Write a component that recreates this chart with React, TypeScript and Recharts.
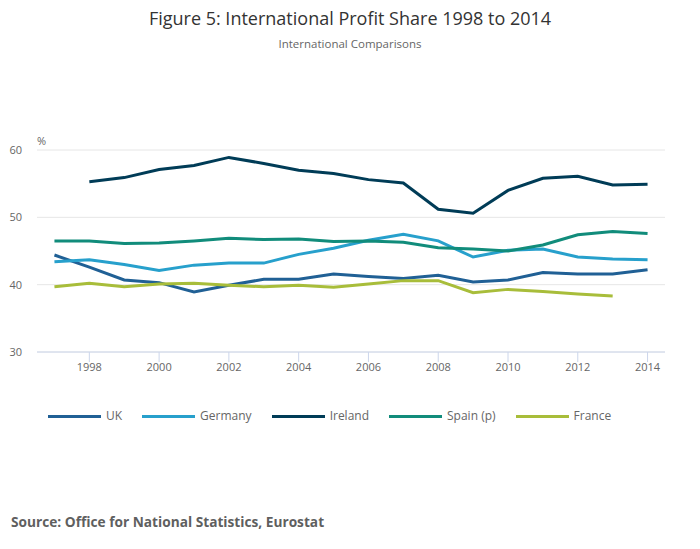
import React from 'react';
import { LineChart, Line, XAxis, YAxis, CartesianGrid } from 'recharts';

// ─── Data ───────────────────────────────────────────────────────────────────
const years = [1997, 1998, 1999, 2000, 2001, 2002, 2003, 2004, 2005, 2006, 2007, 2008, 2009, 2010, 2011, 2012, 2013, 2014];
const uk = [44.4, 42.6, 40.7, 40.3, 38.9, 39.9, 40.8, 40.8, 41.6, 41.2, 40.9, 41.4, 40.4, 40.7, 41.8, 41.6, 41.6, 42.2];
const germany = [43.4, 43.7, 43.0, 42.1, 42.9, 43.2, 43.2, 44.5, 45.4, 46.6, 47.5, 46.5, 44.1, 45.1, 45.3, 44.1, 43.8, 43.7];
const ireland = [null, 55.3, 55.9, 57.1, 57.7, 58.9, 58.0, 57.0, 56.5, 55.6, 55.1, 51.2, 50.6, 54.0, 55.8, 56.1, 54.8, 54.9];
const spain = [46.5, 46.5, 46.1, 46.2, 46.5, 46.9, 46.7, 46.8, 46.4, 46.5, 46.3, 45.5, 45.3, 45.0, 45.9, 47.4, 47.9, 47.6];
const france = [39.7, 40.2, 39.7, 40.1, 40.2, 39.9, 39.7, 39.9, 39.6, 40.1, 40.6, 40.6, 38.8, 39.3, 39.0, 38.6, 38.3, null];

const xTicks = [1998, 2000, 2002, 2004, 2006, 2008, 2010, 2012, 2014];
const yTicks = [30, 40, 50, 60];

const series = [
  { key: 'uk', name: 'UK', color: '#206095' },
  { key: 'germany', name: 'Germany', color: '#27a0cc' },
  { key: 'ireland', name: 'Ireland', color: '#003c57' },
  { key: 'spain', name: 'Spain (p)', color: '#118c7b' },
  { key: 'france', name: 'France', color: '#a8bd3a' },
];

const data = years.map((year, i) => ({
  year,
  uk: uk[i],
  germany: germany[i],
  ireland: ireland[i],
  spain: spain[i],
  france: france[i],
}));

const FONT = '"Open Sans", sans-serif';

// legend sits under the plot, drawn as plain html so it doesn't eat plot height
function ChartLegend() {
  return (
    <div style={{ position: 'absolute', top: 408, left: 48, display: 'flex', alignItems: 'center', fontSize: 12, color: '#666' }}>
      {series.map((s) => (
        <div key={s.key} style={{ display: 'flex', alignItems: 'center', marginRight: 20 }}>
          <span style={{ display: 'inline-block', width: 53, height: 3, background: s.color, marginRight: 5 }} />
          <span style={{ lineHeight: '16px' }}>{s.name}</span>
        </div>
      ))}
    </div>
  );
}

export default function App() {
  return (
    <div style={{ position: 'absolute', left: 0, top: 0, width: 700, height: 549, background: '#fff', fontFamily: FONT }}>
      <div style={{ position: 'absolute', top: 7, left: 0, width: 700, textAlign: 'center', fontSize: 18, lineHeight: '22px', color: '#333' }}>
        Figure 5: International Profit Share 1998 to 2014
      </div>
      <div style={{ position: 'absolute', top: 37, left: 0, width: 700, textAlign: 'center', fontSize: 11.5, lineHeight: '14px', color: '#666' }}>
        International Comparisons
      </div>
      <div style={{ position: 'absolute', top: 134, left: 37, fontSize: 11, lineHeight: '14px', color: '#666' }}>%</div>

      {/* plot area: x 37..665, y 150..352 */}
      <LineChart width={700} height={549} data={data} margin={{ top: 150, right: 35, bottom: 167, left: 0 }}>
        <CartesianGrid vertical={false} stroke="#e6e6e6" />
        <XAxis
          dataKey="year"
          type="number"
          domain={[1996.5, 2014.5]}
          ticks={xTicks}
          stroke="#ccd6eb"
          tickSize={10}
          tickMargin={1}
          tick={{ fill: '#666', fontSize: 11, fontFamily: FONT }}
          height={30}
        />
        <YAxis
          domain={[30, 60]}
          ticks={yTicks}
          width={37}
          axisLine={false}
          tickLine={false}
          tickSize={0}
          tickMargin={15}
          tick={{ fill: '#666', fontSize: 11, fontFamily: FONT }}
        />
        {series.map((s) => (
          <Line
            key={s.key}
            dataKey={s.key}
            name={s.name}
            stroke={s.color}
            strokeWidth={3}
            dot={false}
            type="linear"
            isAnimationActive={false}
          />
        ))}
      </LineChart>

      <ChartLegend />

      <div style={{ position: 'absolute', top: 512, left: 11, fontSize: 13.7, fontWeight: 700, lineHeight: '20px', color: '#5f5f5f' }}>
        Source: Office for National Statistics, Eurostat
      </div>
    </div>
  );
}
